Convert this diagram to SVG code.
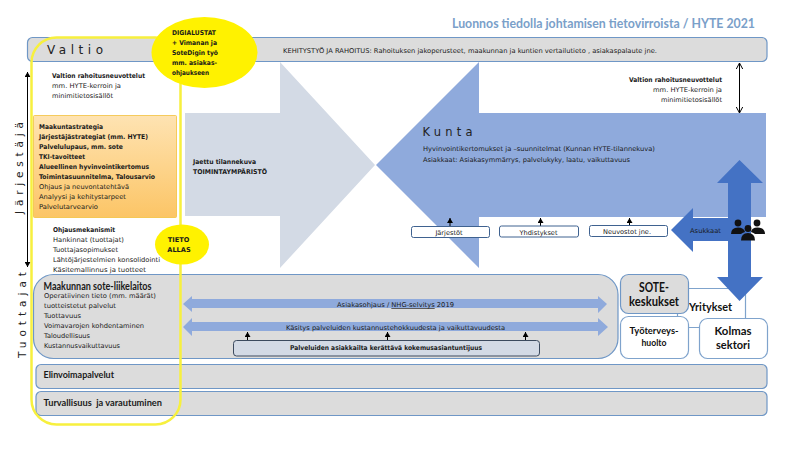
<svg xmlns="http://www.w3.org/2000/svg" width="800" height="450" viewBox="0 0 800 450">
<style>
text{font-family:"DejaVu Sans","Liberation Sans",sans-serif;font-size:6.6px;fill:#1a1a1a}
.b{font-weight:bold}
.c{font-family:Lato,"Liberation Sans",sans-serif}
.m{text-anchor:middle}
.e{text-anchor:end}
.bar{fill:#dcdcdc;stroke:#6f97c6;stroke-width:1.2}
.wh{fill:#fff;stroke:#7fa3cc;stroke-width:1.2}
.sm{fill:#fff;stroke:#3f6290;stroke-width:1}
.sp{font-size:12px;fill:#222}
.thin{stroke:#000;stroke-width:1;fill:none}
.bl{fill:#8faadc}
.dk{fill:#4472c4}
</style>
<defs>
<linearGradient id="og" x1="0" y1="0" x2="0" y2="1"><stop offset="0" stop-color="#fee3b2"/><stop offset="1" stop-color="#fcc566"/></linearGradient>
<marker id="ah" markerWidth="6" markerHeight="6" refX="5" refY="3" orient="auto-start-reverse"><path d="M0 0L5 3L0 6z" fill="#000"/></marker>
<marker id="oh" markerWidth="8" markerHeight="8" refX="7" refY="4" orient="auto-start-reverse"><path d="M1 0.8L7 4L1 7.2" fill="none" stroke="#000" stroke-width="1"/></marker>
</defs>
<text id="title" class="c b" x="452" y="27.500" style="font-size:12.600px;fill:#7aa0c9" textLength="303" lengthAdjust="spacingAndGlyphs">Luonnos tiedolla johtamisen tietovirroista / HYTE 2021</text>

<g id="valtio"><rect class="bar" x="27.500" y="37.500" width="739.500" height="24" rx="5"/>
<text class="sp" x="47" y="54" textLength="56">Valtio</text>
<text x="283" y="53" textLength="374" lengthAdjust="spacingAndGlyphs">KEHITYSTYÖ JA RAHOITUS: Rahoituksen jakoperusteet, maakunnan ja kuntien vertailutieto , asiakaspalaute jne.</text></g>

<g id="toimintaymparisto"><path d="M185 113H280V62L375 165L280 268V216H185z" fill="#d3dae5"/>
<text class="b" x="193" y="164" textLength="63" lengthAdjust="spacingAndGlyphs">Jaettu tilannekuva</text>
<text class="b" x="193" y="174" textLength="74" lengthAdjust="spacingAndGlyphs">TOIMINTAYMPÄRISTÖ</text></g>

<g id="kunta"><path d="M766 113H479V62L376 165L479 268V217H766z" class="bl"/>
<text class="sp" x="422.500" y="136" style="font-size:11.500px" textLength="50">Kunta</text>
<text x="423" y="151" textLength="232" lengthAdjust="spacingAndGlyphs">Hyvinvointikertomukset ja –suunnitelmat (Kunnan HYTE-tilannekuva)</text>
<text x="423" y="162" textLength="207" lengthAdjust="spacingAndGlyphs">Asiakkaat: Asiakasymmärrys, palvelukyky, laatu, vaikuttavuus</text></g>

<g id="valtion-neuvottelut-vasen">
<text class="b" x="52" y="77.500" textLength="93" lengthAdjust="spacingAndGlyphs">Valtion rahoitusneuvottelut</text>
<text x="52" y="87.500" textLength="69" lengthAdjust="spacingAndGlyphs">mm. HYTE-kerroin ja</text>
<text x="52" y="97.500" textLength="61" lengthAdjust="spacingAndGlyphs">minimitietosisällöt</text></g>

<g id="valtion-neuvottelut-oikea">
<text class="b e" x="722" y="82" textLength="93" lengthAdjust="spacingAndGlyphs">Valtion rahoitusneuvottelut</text>
<text class="e" x="722" y="92" textLength="69" lengthAdjust="spacingAndGlyphs">mm. HYTE-kerroin ja</text>
<text class="e" x="722" y="102" textLength="61" lengthAdjust="spacingAndGlyphs">minimitietosisällöt</text></g>

<g id="maakuntastrategia"><rect x="33.500" y="115.500" width="143" height="102" rx="1" fill="url(#og)" stroke="#f2c23e" stroke-width=".8"/>
<text class="b" x="39" y="129" textLength="64" lengthAdjust="spacingAndGlyphs">Maakuntastrategia</text>
<text class="b" x="39" y="139" textLength="109" lengthAdjust="spacingAndGlyphs">Järjestäjästrategiat (mm. HYTE)</text>
<text class="b" x="39" y="149" textLength="84" lengthAdjust="spacingAndGlyphs">Palvelulupaus, mm. sote</text>
<text class="b" x="39" y="159" textLength="46" lengthAdjust="spacingAndGlyphs">TKI-tavoitteet</text>
<text class="b" x="39" y="169" textLength="110" lengthAdjust="spacingAndGlyphs">Alueellinen hyvinvointikertomus</text>
<text class="b" x="39" y="179" textLength="116" lengthAdjust="spacingAndGlyphs">Toimintasuunnitelma, Talousarvio</text>
<text x="39" y="189" textLength="90" lengthAdjust="spacingAndGlyphs">Ohjaus ja neuvontatehtävä</text>
<text x="39" y="199" textLength="87" lengthAdjust="spacingAndGlyphs">Analyysi ja kehitystarpeet</text>
<text x="39" y="209" textLength="59" lengthAdjust="spacingAndGlyphs">Palvelutarvearvio</text></g>

<g id="ohjausmekanismit">
<text class="b" x="53" y="232" textLength="62" lengthAdjust="spacingAndGlyphs">Ohjausmekanismit</text>
<text x="53" y="242" textLength="71" lengthAdjust="spacingAndGlyphs">Hankinnat (tuottajat)</text>
<text x="53" y="252" textLength="65" lengthAdjust="spacingAndGlyphs">Tuottajasopimukset</text>
<text x="53" y="262" textLength="107" lengthAdjust="spacingAndGlyphs">Lähtöjärjestelmien konsolidointi</text>
<text x="53" y="272" textLength="93" lengthAdjust="spacingAndGlyphs">Käsitemallinnus ja tuotteet</text></g>

<g id="maakunnan-liikelaitos"><rect class="bar" x="33.500" y="274.500" width="584.500" height="84" rx="20"/>
<text class="c b" x="43.500" y="290" style="font-size:10.500px" textLength="108" lengthAdjust="spacingAndGlyphs">Maakunnan sote-liikelaitos</text>
<text x="44" y="298" textLength="112" lengthAdjust="spacingAndGlyphs">Operatiivinen tieto (mm. määrät)</text>
<text x="44" y="308" textLength="72" lengthAdjust="spacingAndGlyphs">tuotteistetut palvelut</text>
<text x="44" y="318" textLength="37" lengthAdjust="spacingAndGlyphs">Tuottavuus</text>
<text x="44" y="328" textLength="100" lengthAdjust="spacingAndGlyphs">Voimavarojen kohdentaminen</text>
<text x="44" y="338" textLength="46" lengthAdjust="spacingAndGlyphs">Taloudellisuus</text>
<text x="44" y="348" textLength="76" lengthAdjust="spacingAndGlyphs">Kustannusvaikuttavuus</text></g>

<g id="elinvoimapalvelut"><rect class="bar" x="36" y="364.500" width="731" height="24" rx="5"/>
<text class="c b" x="43.500" y="378" style="font-size:9.400px" textLength="70.500" lengthAdjust="spacingAndGlyphs">Elinvoimapalvelut</text></g>
<g id="turvallisuus"><rect class="bar" x="36" y="391.500" width="731" height="24" rx="5"/>
<text class="c b" x="43.500" y="406" style="font-size:9.400px" xml:space="preserve" textLength="118.500" lengthAdjust="spacingAndGlyphs">Turvallisuus  ja varautuminen</text></g>

<g id="connectors">
<path class="thin" d="M27.500 72V267" marker-start="url(#ah)" marker-end="url(#ah)"/>
<path class="thin" d="M739.500 63V113" marker-start="url(#oh)" marker-end="url(#oh)"/>
<path class="thin" d="M450 226V218" marker-end="url(#ah)"/>
<path class="thin" d="M540.500 226V218" marker-end="url(#ah)"/>
<path class="thin" d="M629.500 226V218" marker-end="url(#ah)"/>
<path class="thin" d="M247.500 340V332" marker-end="url(#ah)"/>
<path class="thin" d="M387.500 340V332" marker-end="url(#ah)"/>
<path class="thin" d="M525.500 340V332" marker-end="url(#ah)"/>
<path class="bl" d="M183 304L192 296V299H598V296L607 304L598 313V308H192V312z"/>
<path class="bl" d="M183 327L192 318V322H598V318L608 327L598 336V331H192V336z"/>
</g>

<g id="asiakasohjaus"><text x="337" y="307" textLength="117" lengthAdjust="spacingAndGlyphs">Asiakasohjaus / <tspan text-decoration="underline">NHG-selvitys</tspan> 2019</text></g>
<g id="kasitys"><text x="286" y="330" textLength="219" lengthAdjust="spacingAndGlyphs">Käsitys palveluiden kustannustehokkuudesta ja vaikuttavuudesta</text></g>
<g id="kokemusasiantuntijuus"><rect x="233.500" y="340.500" width="306" height="15.500" rx="3" fill="#d3dae5" stroke="#3c4a5e" stroke-width="1"/>
<text class="b" x="290" y="350" textLength="192" lengthAdjust="spacingAndGlyphs">Palveluiden asiakkailta kerättävä kokemusasiantuntijuus</text></g>

<g id="jarjestot"><rect class="sm" x="411.500" y="226.500" width="78" height="11" rx="2"/><text class="m" x="449" y="234.500">Järjestöt</text></g>
<g id="yhdistykset"><rect class="sm" x="499.500" y="226" width="79" height="11" rx="2"/><text class="m" x="538.500" y="234.500">Yhdistykset</text></g>
<g id="neuvostot"><rect class="sm" x="589.500" y="225.500" width="78" height="11" rx="2"/><text class="m" x="627" y="233.500">Neuvostot jne.</text></g>

<g id="yritykset"><path class="wh" d="M677.500 288.500H745.500V327.500H686Q677.500 327.500 677.500 319z"/>
<text class="c" x="689" y="311" style="font-size:11.500px;font-weight:bold;fill:#111" textLength="43" lengthAdjust="spacingAndGlyphs">Yritykset</text></g>
<g id="sote"><rect x="620.500" y="274.500" width="68" height="39" rx="8" fill="#dcdcdc" stroke="#6f97c6" stroke-width="1.200"/>
<text class="c m" x="654" y="292" style="font-size:12.500px;font-weight:bold;fill:#111" textLength="30" lengthAdjust="spacingAndGlyphs">SOTE-</text>
<text class="c m" x="654" y="306" style="font-size:12.500px;font-weight:bold;fill:#111" textLength="50" lengthAdjust="spacingAndGlyphs">keskukset</text></g>
<g id="tyoterveys"><rect class="wh" x="620.500" y="316.500" width="68" height="42" rx="8"/>
<text class="c b m" x="654" y="334" style="font-size:9px;fill:#111" textLength="49" lengthAdjust="spacingAndGlyphs">Työterveys-</text>
<text class="c b m" x="654" y="346" style="font-size:9px;fill:#111" textLength="25" lengthAdjust="spacingAndGlyphs">huolto</text></g>
<g id="kolmas"><rect class="wh" x="699.500" y="318.500" width="68" height="40" rx="8"/>
<text class="c m" x="733" y="335" style="font-size:12px;font-weight:bold;fill:#111" textLength="37" lengthAdjust="spacingAndGlyphs">Kolmas</text>
<text class="c m" x="733" y="349" style="font-size:12px;font-weight:bold;fill:#111" textLength="34" lengthAdjust="spacingAndGlyphs">sektori</text></g>

<g id="asukkaat">
<path class="dk" d="M739.500 160L763 183H751V277H763L739.500 301L717 277H728V241H693V252L671 230L693 208V218H728V183H717z"/>
<text x="690" y="233" textLength="31" lengthAdjust="spacingAndGlyphs">Asukkaat</text>
<g fill="#111"><circle cx="738" cy="223" r="3.400"/><circle cx="757" cy="223" r="3.400"/><circle cx="748" cy="228.500" r="3.400"/>
<path d="M731 234Q731 227.500 738 227.500Q744 227.500 745 232Q742 233 741 234z"/><path d="M765 234Q765 227.500 757.500 227.500Q751.500 227.500 751 232Q754 233 755 234z"/>
<path d="M741 240.500Q741 233 748 233Q755 233 755 240.500z"/></g></g>

<g id="tietoallas-kehys"><rect x="31.500" y="37.500" width="149" height="387" rx="25" fill="none" stroke="#f7f03e" stroke-width="2.500"/></g>
<g id="digialustat"><ellipse cx="204.500" cy="52.500" rx="53" ry="35.500" fill="#fff200"/>
<text class="b" x="172" y="35" textLength="44" lengthAdjust="spacingAndGlyphs">DIGIALUSTAT</text>
<text class="b" x="172" y="45" textLength="45" lengthAdjust="spacingAndGlyphs">+ Vimanan ja</text>
<text class="b" x="172" y="55" textLength="46" lengthAdjust="spacingAndGlyphs">SoteDigin työ</text>
<text class="b" x="172" y="65" textLength="45" lengthAdjust="spacingAndGlyphs">mm. asiakas-</text>
<text class="b" x="172" y="75" textLength="37" lengthAdjust="spacingAndGlyphs">ohjaukseen</text></g>
<g id="tietoallas"><ellipse cx="182" cy="244.500" rx="27" ry="20" fill="#fff200"/>
<text class="b m" x="178.500" y="242">TIETO</text>
<text class="b m" x="179" y="252">ALLAS</text></g>

<g id="rooli-jarjestaja"><text class="sp" transform="translate(23 214) rotate(-90)" style="font-size:10.500px" textLength="92">Järjestäjä</text></g>
<g id="rooli-tuottajat"><text class="sp" transform="translate(26 358) rotate(-90)" style="font-size:10.500px" textLength="86">Tuottajat</text></g>
</svg>
